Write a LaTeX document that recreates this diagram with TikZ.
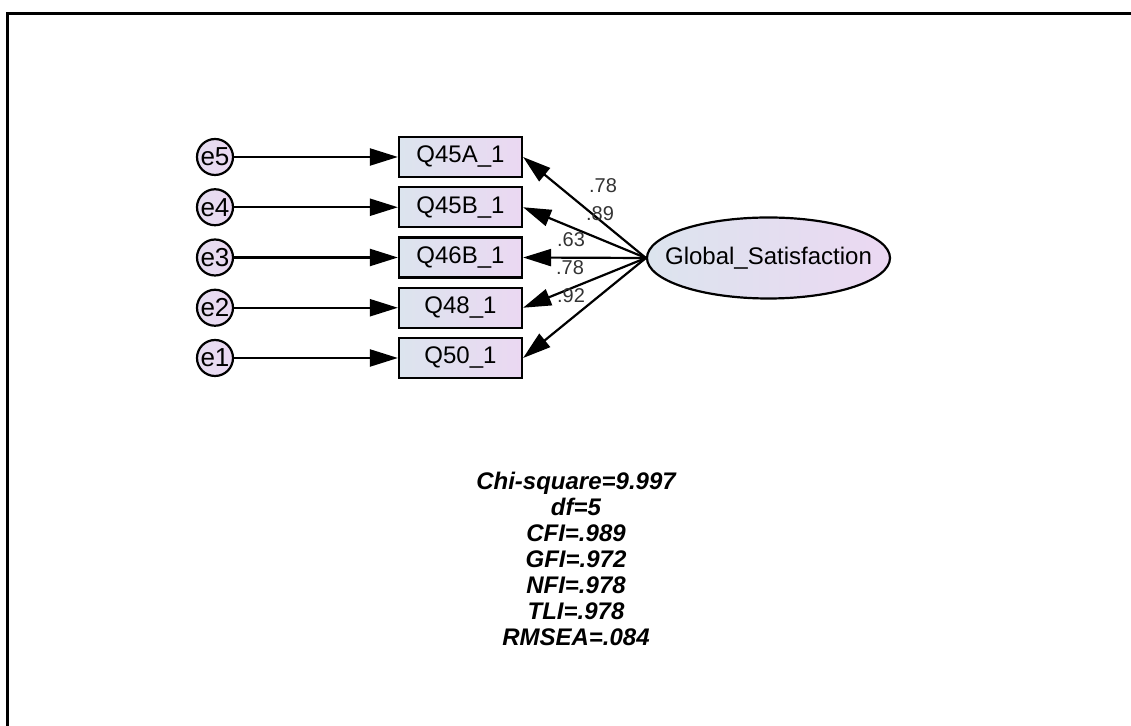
\documentclass[tikz,border=0pt]{standalone}
\usepackage{fontspec}
\setmainfont{Liberation Sans}
\usetikzlibrary{shapes.geometric, arrows.meta}
\definecolor{amosblue}{HTML}{DCE4EE}
\definecolor{amoslilac}{HTML}{EBD8F2}
\tikzset{
  obsbox/.style={draw, line width=1.1pt, left color=amosblue, right color=amoslilac, minimum width=61.5pt, minimum height=20pt, inner sep=0pt, font=\fontsize{12}{14}\selectfont},
  errcirc/.style={circle, draw, line width=1.1pt, left color=amoslilac!60!amosblue, right color=amoslilac, minimum size=18pt, inner sep=0pt, font=\fontsize{13}{14}\selectfont},
  latent/.style={ellipse, draw, line width=1.1pt, left color=amosblue, right color=amoslilac, minimum width=121.5pt, minimum height=40.5pt, inner sep=0pt},
  regpath/.style={line width=1.1pt, -{Triangle[length=14pt, width=8.5pt]}},
  loading/.style={font=\fontsize{10}{11}\selectfont, text=black!80, inner sep=0pt}
}
\begin{document}
\begin{tikzpicture}[x=0.5pt, y=-0.5pt]
  \useasboundingbox (0,0) rectangle (1131,726);
  \draw[line width=1.5pt] (7.5,726) -- (7.5,13.5) -- (1131,13.5);
  \node[latent, label={[font=\fontsize{12}{14}\selectfont]center:Global\_Satisfaction}] (gs) at (768.5,258) {};
  \foreach \name/\txt/\err [count=\i from 0] in {q45a/Q45A\_1/e5, q45b/Q45B\_1/e4, q46b/Q46B\_1/e3, q48/Q48\_1/e2, q50/Q50\_1/e1} {
    \node[obsbox] (\name) at (460.5,157+50.25*\i) {\txt};
    \node[errcirc] (\err) at (215,157+50.25*\i) {\err};
    \draw[regpath] (\err) -- (\name);
    \draw[regpath] (gs.west) -- (\name.east);
  }
  \node[loading] (l1) at (603,186) {.78};
  \node[loading] (l2) at (600,214) {.89};
  \node[loading] (l3) at (571,240) {.63};
  \node[loading] (l4) at (570,268) {.78};
  \node[loading] (l5) at (571,296) {.92};
  \node[font=\fontsize{12}{13}\selectfont\bfseries\itshape, align=center] (fit) at (576,558.5) {Chi-square=9.997\\ df=5\\ CFI=.989\\ GFI=.972\\ NFI=.978\\ TLI=.978\\ RMSEA=.084};
\end{tikzpicture}
\end{document}
